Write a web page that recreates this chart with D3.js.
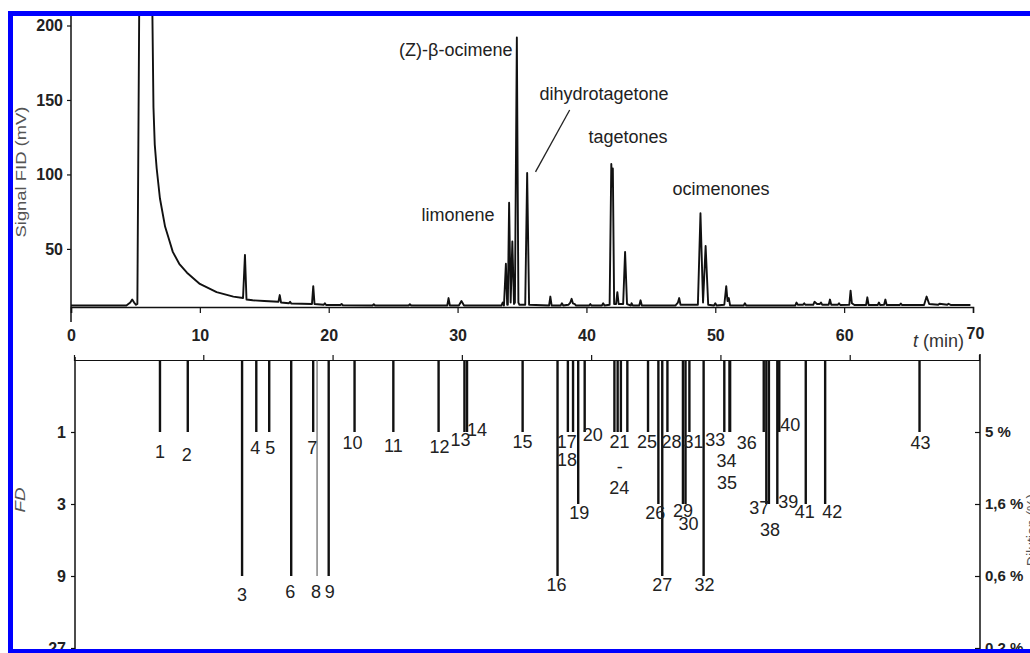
<!DOCTYPE html>
<html><head><meta charset="utf-8">
<script src="https://cdn.jsdelivr.net/npm/d3@7"></script>
<style>body{margin:0;background:#fff;overflow:hidden}svg{display:block}text{font-family:Arial,"Liberation Sans",sans-serif}</style>
</head><body><svg id="c" width="1030" height="653"></svg>
<script>
// ---------- data ----------
const traceTime = [0,4.3,4.6,4.75,4.9,5.05,5.15,5.3,5.8,6.3,6.4,6.5,6.65,6.9,7.3,7.55,7.9,8.4,9.0,10.0,11.3,12.6,13.35,13.5,13.62,14.1,15.0,16.1,16.2,16.3,16.9,17.0,17.1,18.7,18.8,18.9,19.6,19.7,19.8,20.9,21.0,21.1,23.4,23.5,23.6,26.2,26.3,26.4,29.2,29.3,29.4,30.1,30.3,30.5,33.4,33.5,33.6,33.75,33.85,33.9,34.0,34.12,34.25,34.38,34.45,34.6,34.72,34.8,35.25,35.4,35.55,37.1,37.2,37.3,38.0,38.1,38.2,38.6,38.75,38.85,38.95,39.1,39.2,40.2,40.3,40.4,41.2,41.3,41.4,41.8,41.93,42.0,42.05,42.15,42.3,42.4,42.5,42.85,43.0,43.15,43.45,43.5,43.6,44.1,44.2,44.3,46.9,47.1,47.2,47.3,48.65,48.85,49.05,49.25,49.45,49.9,50.0,50.1,50.7,50.85,50.95,51.05,51.15,52.2,52.3,52.4,56.2,56.3,56.4,56.8,56.9,57.0,57.6,57.7,57.9,58.1,58.2,58.3,58.8,58.9,59.0,59.5,59.6,59.7,60.4,60.5,60.6,60.8,61.7,61.8,61.9,62.6,62.7,62.8,63.1,63.2,63.3,64.3,64.4,64.5,66.2,66.4,66.6,67.3,67.4,68.0,68.1,68.3,69.8];
const traceSignal = [12,12,14,16,14,12.5,13,220,600,220,145,120,104,84,65,58,48,40,34,26.5,21,18,17,46,16,15.5,15,14.5,19,14,13.5,14.5,13.3,13,25,13,12.5,13.5,12.3,12.3,13,12.2,12,12.8,12,12,12.8,12,12,17,12,12,15,12,12,14,12,40,12.5,12.5,81,14,55,13,14,192,14,12.5,12.5,101,12.5,12,18,12,12,13.5,12,12.5,14,16.5,13.5,13,12,12,13,12,12,13.5,12,12.5,107,92,104,13,13,21,13,13,48,13,12,13.5,12,12,15.5,12,12,14,17,12.5,12.5,74,14,52,12.5,12,13.5,12,12.5,25,15,17,12,12,13.5,12,12,14,12.5,12.5,13.5,12.5,12.5,14.5,13,13,14,12.5,12.5,16,12.5,12.5,13.5,12.3,12.5,22,13.5,12.3,12.3,17.5,12.3,12.3,14,12.3,12.5,16,12.3,12.3,13.3,12.3,12.3,18,13,12.5,13.2,12.5,13.2,12.3,12.3];
const signalTicks = [50, 100, 150, 200];
const timeTicks = [0, 10, 20, 30, 40, 50, 60, 70];

const peakNames = ["(Z)-β-ocimene", "dihydrotagetone", "tagetones", "limonene", "ocimenones"];
const peakNameTime = [34.26, 36.36, 40.16, 27.2, 46.67];
const peakNameSignal = [179.2, 150.3, 120.8, 68.5, 85.9];
const peakNameAnchor = ["end", "start", "start", "start", "start"];

const compounds = ["1","2","3","4","5","6","7","8","9","10","11","12","13","14","15","16","17","18","19","20","21","22","23","24","25","26","27","28","29","30","31","32","33","34","35","36","37","38","39","40","41","42","43"];
const compoundLabel = ["1","2","3","4","5","6","7","8","9","10","11","12","13","14","15","16","17","18","19","20","21","-","","24","25","26","27","28","29","30","31","32","33","34","35","36","37","38","39","40","41","42","43"];
const compoundTime = [6.65,8.8,13.0,14.1,15.1,16.8,18.5,18.8,19.7,21.7,24.7,28.2,30.2,30.4,34.7,37.4,38.2,38.6,39.0,39.5,41.8,42.05,42.3,42.8,44.4,45.2,45.5,45.9,47.1,47.3,47.6,48.7,50.3,50.7,50.75,53.35,53.55,53.75,54.4,54.55,56.6,58.1,65.4];
const compoundFD = [1,1,9,1,1,9,1,9,9,1,1,1,1,1,1,9,1,1,3,1,1,1,1,1,1,3,9,1,3,3,1,9,1,1,1,1,3,3,3,1,3,3,1];
const fdTicks = [1, 3, 9, 27];
const dilutionLabels = ["5 %", "1,6 %", "0,6 %", "0,2 %"];

// label nudges (layout only, pixels: dx, dy of label centre from bar end)
const labelDX = [0,-1,0,-1,1,-1,-1,-1,1,-2,0,1,-4,10,0,-1,-1,-6,1,8,5,2,0,-8,-1,-3,0,4,0,3,4,1,-9,-3,-3,-17,-7,1,11,11,-1,7,1];
const labelDY = [20,23,19,16,16,16,16,16,16,11,14,15,8,-2,10,9,10,28,9,3,10,35,0,56,10,9,9,10,7,20,10,9,8,29,51,11,4,26,-2,-7,8,8,11];

// ---------- drawing ----------
const svg = d3.select("#c");
const xTop = d3.scaleLinear().domain([0, 70]).range([71, 973]);
const ySig = d3.scaleLinear().domain([11, 200]).range([307, 25.5]);
const xBot = d3.scaleLinear().domain([0, 70]).range([74, 979]);
const yFD = d3.scaleLog().base(3).domain([1/3, 27]).range([360, 648]);
const ink = "#111";
const FF = "Arial,'Liberation Sans',sans-serif";

svg.append("defs").append("clipPath").attr("id","clipTop")
  .append("rect").attr("x",60).attr("y",16).attr("width",960).attr("height",296);

// top y axis
const gy = svg.append("g").attr("transform","translate(71,0)")
  .call(d3.axisLeft(ySig).tickValues(signalTicks).tickSize(4).tickPadding(4));
gy.select(".domain").remove();
gy.selectAll("line").attr("stroke",ink).attr("stroke-width",1.2);
gy.selectAll("text").attr("font-size",16).attr("font-weight","bold").attr("fill","#222").attr("font-family",FF);
svg.append("line").attr("x1",71).attr("x2",71).attr("y1",14).attr("y2",322).attr("stroke",ink).attr("stroke-width",1.5);

// top x axis
const gx = svg.append("g").attr("transform","translate(0,307)")
  .call(d3.axisBottom(xTop).tickValues(timeTicks).tickSize(6).tickPadding(17));
gx.select(".domain").attr("stroke",ink).attr("stroke-width",1.5);
gx.selectAll("line").attr("stroke",ink).attr("stroke-width",1.2);
gx.selectAll("text").attr("font-size",16).attr("font-weight","bold").attr("fill","#222").attr("font-family",FF);
gx.selectAll(".tick").filter(d=>d===70).select("text").attr("dx",2).attr("y",21);

// chromatogram trace
const trace = traceTime.map((t,i)=>[t, traceSignal[i]]);
svg.append("path").datum(trace).attr("clip-path","url(#clipTop)")
  .attr("fill","none").attr("stroke",ink).attr("stroke-width",1.9).attr("stroke-linejoin","round")
  .attr("d", d3.line().x(d=>xTop(d[0])).y(d=>ySig(d[1])));

// peak names
svg.selectAll("text.pn").data(peakNames).join("text").attr("class","pn")
  .attr("x",(d,i)=>xTop(peakNameTime[i])).attr("y",(d,i)=>ySig(peakNameSignal[i]))
  .attr("text-anchor",(d,i)=>peakNameAnchor[i])
  .attr("font-size",18).attr("fill","#222").text(d=>d);
svg.append("line")
  .attr("x1",xTop(38.7)).attr("y1",ySig(143.3)).attr("x2",xTop(36.05)).attr("y2",ySig(101.7))
  .attr("stroke","#222").attr("stroke-width",1.3);

// axis titles
svg.append("text").attr("transform","translate(26,172) rotate(-90)")
  .attr("text-anchor","middle").attr("font-size",15).attr("fill","#555")
  .attr("textLength",131).attr("lengthAdjust","spacingAndGlyphs").text("Signal FID (mV)");
const tl = svg.append("text").attr("x",913).attr("y",347).attr("font-size",18).attr("fill","#333");
tl.append("tspan").attr("font-style","italic").text("t");
tl.append("tspan").text(" (min)");
svg.append("text").attr("transform","translate(25,500) rotate(-90)")
  .attr("text-anchor","middle").attr("font-size",14).attr("font-style","italic").attr("fill","#555")
  .attr("textLength",25).attr("lengthAdjust","spacingAndGlyphs").text("FD");
svg.append("text").attr("transform","translate(1037,530) rotate(-90)")
  .attr("text-anchor","middle").attr("font-size",14).attr("fill","#555").text("Dilution (%)");

// bottom axes
const gb = svg.append("g").attr("transform","translate(0,360)")
  .call(d3.axisTop(xBot).tickValues([10,20,30,40,50,60]).tickSize(5).tickFormat(""));
gb.select(".domain").attr("stroke",ink).attr("stroke-width",1.2);
gb.selectAll("line").attr("stroke",ink).attr("stroke-width",1.2);

const gl = svg.append("g").attr("transform","translate(75,0)")
  .call(d3.axisLeft(yFD).tickValues(fdTicks).tickFormat(d3.format("d")).tickSize(4).tickPadding(5));
gl.select(".domain").remove();
gl.selectAll("line").attr("stroke",ink).attr("stroke-width",1.2);
gl.selectAll("text").attr("font-size",16).attr("font-weight","bold").attr("fill","#222").attr("font-family",FF);
svg.append("line").attr("x1",75).attr("x2",75).attr("y1",357).attr("y2",652).attr("stroke",ink).attr("stroke-width",1.5);

const gr = svg.append("g").attr("transform","translate(980,0)")
  .call(d3.axisRight(yFD).tickValues(fdTicks).tickFormat((d,i)=>dilutionLabels[i]).tickSize(-5).tickPadding(5));
gr.select(".domain").remove();
gr.selectAll("line").attr("stroke",ink).attr("stroke-width",1.2);
gr.selectAll("text").attr("font-size",15).attr("font-weight","bold").attr("fill","#222").attr("font-family",FF);
svg.append("line").attr("x1",980).attr("x2",980).attr("y1",354).attr("y2",652).attr("stroke",ink).attr("stroke-width",1.5);

// FD bars
svg.selectAll("line.bar").data(compounds).join("line").attr("class","bar")
  .attr("x1",(d,i)=>xBot(compoundTime[i])).attr("x2",(d,i)=>xBot(compoundTime[i]))
  .attr("y1",yFD(1/3)).attr("y2",(d,i)=>yFD(compoundFD[i]))
  .attr("stroke",(d)=>d==="8"?"#666":ink).attr("stroke-width",(d)=>d==="8"?1.2:2.4);

svg.selectAll("text.bl").data(compounds).join("text").attr("class","bl")
  .attr("x",(d,i)=>xBot(compoundTime[i])+labelDX[i])
  .attr("y",(d,i)=>yFD(compoundFD[i])+labelDY[i])
  .attr("dy","0.35em").attr("text-anchor","middle")
  .attr("font-size",18).attr("fill","#222").text((d,i)=>compoundLabel[i]);

// blue frame (right side lies outside the picture)
svg.append("rect").attr("x",10.5).attr("y",13.5).attr("width",1100).attr("height",638)
  .attr("fill","none").attr("stroke","#0000ff").attr("stroke-width",5);
</script></body></html>
